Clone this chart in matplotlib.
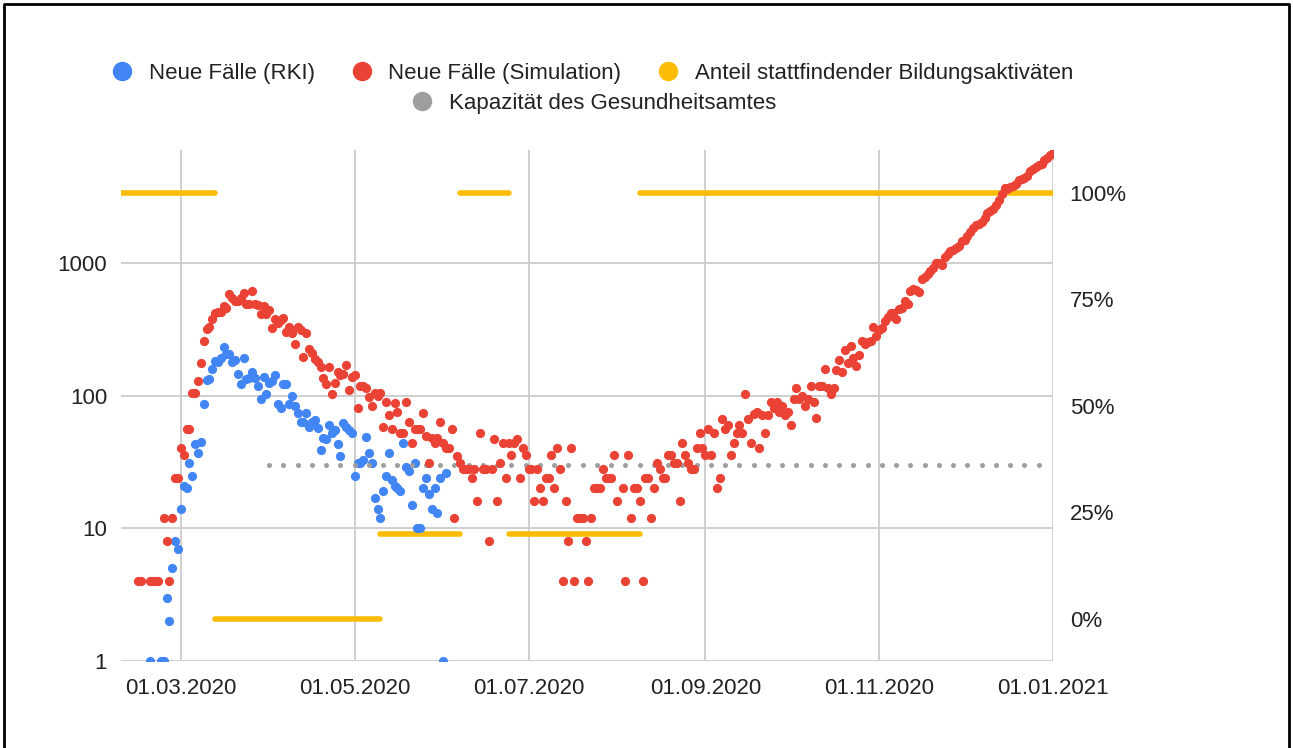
import matplotlib.pyplot as plt
import numpy as np
import pandas as pd
from matplotlib.lines import Line2D
from matplotlib.ticker import NullLocator

plt.rcParams['font.family'] = ['Liberation Sans', 'DejaVu Sans']

# daily new cases, simulation (starts 15.02.2020), 0 = no point on log axis
sim_start = "2020-02-15"
sim_cases = [
    4, 4, 0, 0, 4, 4, 4, 4, 0, 12,
    8, 4, 12, 24, 24, 40, 36, 56, 56, 104,
    104, 130, 176, 260, 316, 328, 380, 420, 430, 430,
    470, 460, 585, 540, 520, 520, 540, 595, 490, 490,
    615, 490, 480, 410, 475, 415, 440, 325, 380, 350,
    370, 385, 300, 330, 295, 245, 330, 310, 195, 295,
    225, 210, 190, 180, 165, 135, 123, 163, 103, 125,
    150, 142, 145, 170, 111, 137, 142, 80, 118, 118,
    115, 97, 83, 105, 100, 105, 58, 90, 71, 56,
    88, 75, 52, 52, 90, 63, 44, 56, 56, 56,
    74, 50, 31, 48, 44, 48, 63, 44, 40, 40,
    56, 12, 35, 31, 28, 28, 28, 24, 28, 16,
    52, 28, 28, 8, 28, 47, 16, 31, 44, 24,
    44, 36, 44, 47, 24, 40, 36, 28, 28, 16,
    28, 20, 16, 24, 24, 36, 20, 40, 28, 4,
    16, 8, 40, 4, 12, 12, 12, 8, 4, 12,
    20, 20, 20, 28, 24, 24, 24, 36, 16, 0,
    20, 4, 36, 12, 20, 20, 16, 4, 24, 24,
    12, 20, 31, 28, 24, 24, 36, 36, 31, 31,
    16, 44, 36, 31, 28, 28, 40, 52, 40, 36,
    56, 36, 52, 20, 24, 67, 56, 60, 36, 44,
    52, 60, 52, 103, 67, 44, 73, 75, 40, 71,
    52, 71, 90, 80, 90, 75, 83, 71, 75, 60,
    95, 115, 95, 100, 83, 95, 119, 89, 68, 119,
    119, 160, 115, 103, 115, 155, 187, 150, 220, 175,
    235, 193, 168, 204, 260, 245, 255, 260, 330, 280,
    310, 325, 365, 390, 420, 420, 380, 450, 460, 520,
    490, 615, 640, 630, 600, 760, 780, 830, 870, 920,
    1000, 1000, 960, 1100, 1170, 1240, 1260, 1290, 1350, 1470,
    1500, 1600, 1720, 1820, 1920, 1950, 2030, 2200, 2400, 2450,
    2540, 2720, 2960, 3300, 3660, 3600, 3750, 3790, 3950, 4200,
    4280, 4400, 4510, 4900, 5090, 5300, 5500, 5600, 6000, 6200,
    6500, 6720,
]

# daily new cases reported by RKI (starts 19.02.2020)
rki_start = "2020-02-19"
rki_cases = [
    1, 0, 0, 0, 1, 1, 3, 2, 5, 8,
    7, 14, 21, 20, 31, 25, 43, 37, 45, 87,
    132, 134, 160, 183, 180, 193, 233, 207, 207, 180,
    187, 146, 123, 193, 134, 136, 150, 136, 119, 95,
    139, 103, 125, 130, 142, 87, 80, 123, 123, 86,
    100, 83, 74, 63, 63, 74, 58, 63, 66, 57,
    39, 48, 47, 60, 52, 55, 43, 35, 62, 58,
    55, 52, 25, 31, 31, 33, 49, 37, 31, 17,
    14, 12, 19, 25, 37, 23, 21, 20, 19, 44,
    29, 27, 15, 31, 10, 10, 20, 24, 18, 14,
    20, 13, 24, 1, 26,
]

# share of education activities taking place (right axis)
edu_from = ["2020-02-09", "2020-03-13", "2020-05-10", "2020-06-07", "2020-06-24", "2020-08-09"]
edu_to = ["2020-03-13", "2020-05-10", "2020-06-07", "2020-06-24", "2020-08-09", "2021-01-01"]
edu_share = [1.0, 0.0, 0.2, 1.0, 0.2, 1.0]

# capacity of the health office
capacity = 30
capacity_dates = pd.date_range("2020-04-01", "2020-12-27", freq="5D")

tick_dates = ["2020-03-01", "2020-05-01", "2020-07-01", "2020-09-01", "2020-11-01", "2021-01-01"]
left_ticks = [1, 10, 100, 1000]
right_ticks = [0, 0.25, 0.5, 0.75, 1.0]
right_labels = ["0%", "25%", "50%", "75%", "100%"]

blue = '#4285F4'
red = '#EA4335'
orange = '#FBBC04'
gray = '#9E9E9E'
txt = '#222222'

sim = pd.Series(sim_cases, index=pd.date_range(sim_start, periods=len(sim_cases)))
rki = pd.Series(rki_cases, index=pd.date_range(rki_start, periods=len(rki_cases)))
sim = sim[sim > 0]
rki = rki[rki > 0]

fig = plt.figure(figsize=(12.93, 7.48), dpi=100)
ax = fig.add_axes([121/1293, 87/748, 932/1293, 511/748])
ax2 = ax.twinx()
ax.set_zorder(ax2.get_zorder() + 1)
ax.patch.set_visible(False)

ax.set_yscale('log')
ax.set_ylim(1, 7100)
ax.set_xlim(pd.Timestamp("2020-02-09"), pd.Timestamp("2021-01-01"))
ax2.set_ylim(-0.099, 1.101)

ax.scatter(rki.index, rki.values, s=44, color=blue, lw=0, zorder=3)
ax.scatter(sim.index, sim.values, s=44, color=red, lw=0, zorder=4)
ax.scatter(capacity_dates, [capacity] * len(capacity_dates), s=13, color=gray, lw=0, zorder=3)

for a, b, v in zip(edu_from, edu_to, edu_share):
    ax.plot([pd.Timestamp(a), pd.Timestamp(b)], [v, v], color=orange, lw=4,
            solid_capstyle='round', transform=ax2.transData, zorder=2)

ax.set_xticks(pd.to_datetime(tick_dates))
ax.set_xticklabels([pd.Timestamp(t).strftime("%d.%m.%Y") for t in tick_dates])
ax.set_yticks(left_ticks)
ax.set_yticklabels([str(t) for t in left_ticks])
ax.yaxis.set_minor_locator(NullLocator())
ax2.set_yticks(right_ticks)
ax2.set_yticklabels(right_labels)

ax.grid(True, color='#cccccc', lw=1.3, zorder=0)
ax.set_axisbelow(True)
for a in (ax, ax2):
    for s in a.spines.values():
        s.set_visible(False)
ax.tick_params(axis='both', length=0, labelsize=16, colors=txt)
ax.tick_params(axis='x', pad=12)
ax.tick_params(axis='y', pad=10)
ax2.tick_params(axis='y', length=0, labelsize=16, colors=txt, pad=12)

mk = dict(marker='o', linestyle='none', markersize=13)
h1 = [Line2D([], [], color=blue, **mk), Line2D([], [], color=red, **mk), Line2D([], [], color=orange, **mk)]
l1 = ["Neue Fälle (RKI)", "Neue Fälle (Simulation)", "Anteil stattfindender Bildungsaktiväten"]
leg_kw = dict(loc='center', frameon=False, fontsize=16, handlelength=1.0,
              handletextpad=0.7, columnspacing=1.6, labelcolor=txt)
fig.legend(h1, l1, ncol=3, bbox_to_anchor=(0.458, 0.902), **leg_kw)
fig.legend([Line2D([], [], color=gray, **mk)], ["Kapazität des Gesundheitsamtes"],
           bbox_to_anchor=(0.459, 0.862), **leg_kw)

# black frame (left, top, right)
fig.add_artist(Line2D([0.003, 0.003, 0.997, 0.997], [0.0, 0.994, 0.994, 0.0],
                      transform=fig.transFigure, color='black', lw=2))

fig.savefig('out.png', dpi=100)
